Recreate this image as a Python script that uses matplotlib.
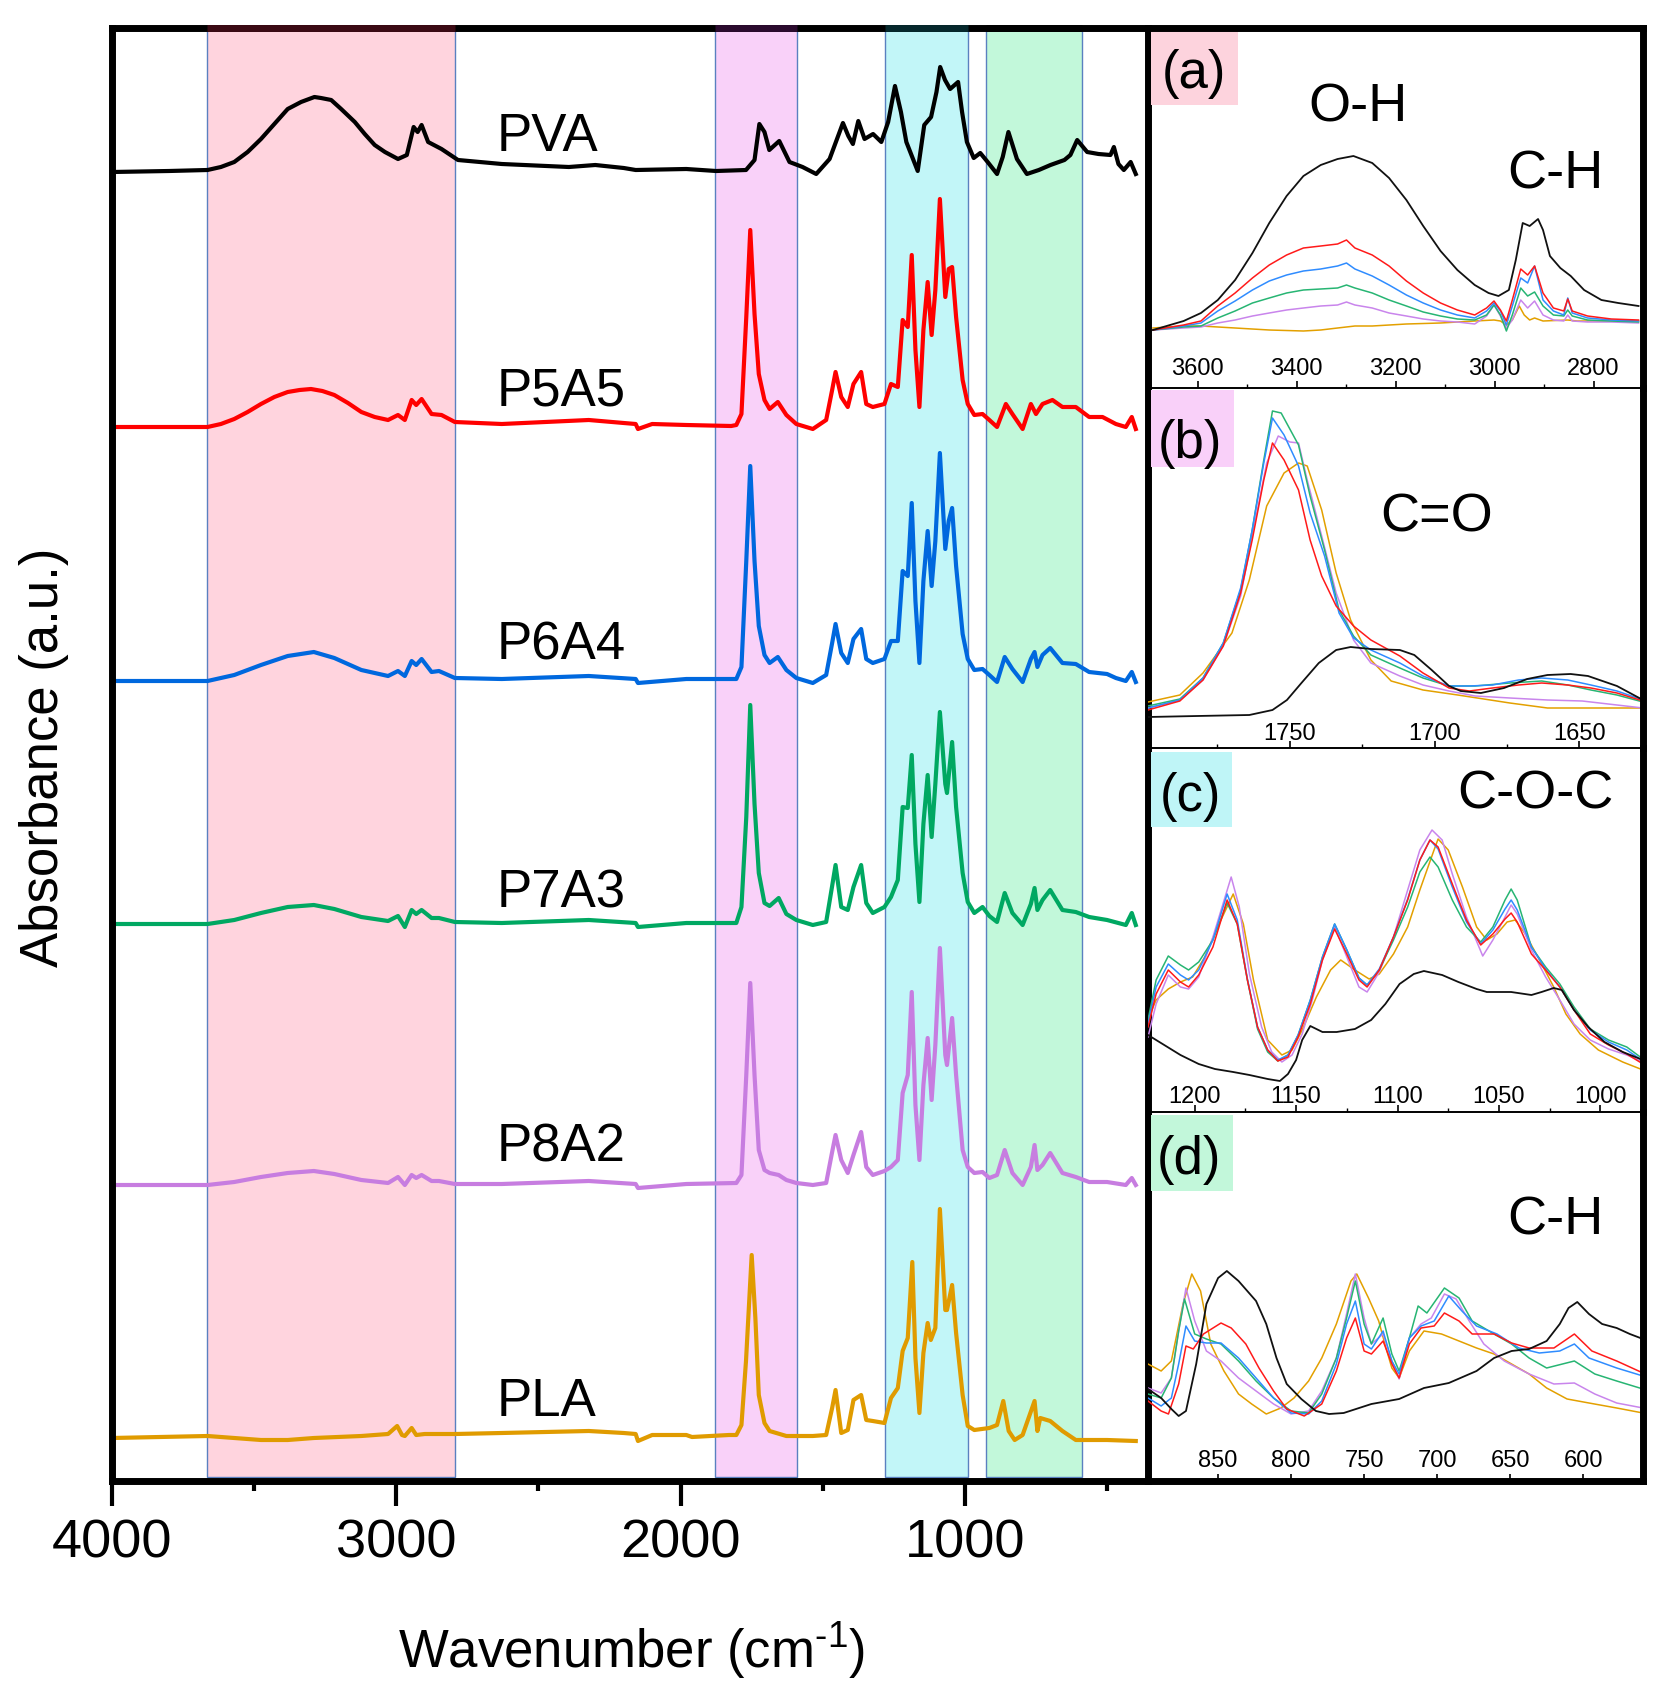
import numpy as np
import matplotlib
matplotlib.use("Agg")
import matplotlib.pyplot as plt
from matplotlib.patches import Rectangle

plt.rcParams['font.family'] = ['Liberation Sans', 'DejaVu Sans']
plt.rcParams['mathtext.fontset'] = 'custom'
plt.rcParams['mathtext.rm'] = 'Liberation Sans'
plt.rcParams['mathtext.it'] = 'Liberation Sans'
plt.rcParams['mathtext.default'] = 'regular'

# ---------------- main panel data (wavenumber, absorbance above own baseline) -------------
names = ['PVA', 'P5A5', 'P6A4', 'P7A3', 'P8A2', 'PLA']
offsets = [1309, 1054, 800, 557, 296, 43]
label_y = [1330, 1076, 822, 574, 320, 65]
main_colors = ['#000000', '#FF0000', '#0068DE', '#00A862', '#C77DE0', '#E09B00']

pva_wn = [4000,3800,3664,3617,3570,3523,3476,3429,3382,3335,3288,3265,3229,3194,3146,3111,3076,3040,2994,2963,
          2939,2925,2911,2888,2841,2783,2629,2393,2300,2200,2158,1980,1875,1770,1740,1723,1705,1688,1653,1617,
          1571,1523,1476,1429,1410,1394,1375,1353,1323,1294,1270,1246,1225,1206,1166,1143,1119,1100,1087,1070,
          1052,1024,1010,993,969,946,920,887,867,847,817,782,740,699,650,629,605,570,530,488,
          476,460,441,417,399]
pva_abs = [0,1,2,5,10,20,33,48,63,70,75,74,72,63,50,38,27,20,13,17,
           45,40,47,30,23,12,8,5,7,4,2,3,1,2,12,48,40,22,31,10,
           5,-2,13,49,36,28,51,33,38,30,50,86,60,30,1,47,55,80,105,92,
           83,90,60,30,14,19,10,-2,15,40,13,-2,2,7,12,17,32,20,18,17,
           25,8,2,10,-2]

p5a5_wn = [4000,3800,3664,3617,3570,3523,3476,3429,3382,3340,3300,3260,3218,3170,3123,3076,3029,2994,2970,2946,
           2930,2911,2876,2841,2794,2629,2323,2200,2158,2150,2100,1980,1822,1804,1786,1769,1755,1740,1725,1705,
           1687,1658,1628,1593,1535,1488,1467,1455,1435,1412,1392,1365,1347,1324,1283,1260,1236,1219,1201,1187,
           1174,1160,1146,1131,1117,1104,1088,1069,1057,1045,1031,1008,990,967,938,914,887,856,833,797,
           768,750,727,692,657,610,563,516,469,434,413,399]
p5a5_abs = [0,0,0,3,8,15,23,30,35,37,38,36,32,24,15,10,7,12,7,27,
            22,28,13,12,5,3,7,4,3,-2,3,2,1,2,13,110,197,113,53,27,
            18,25,12,3,-2,7,37,55,30,20,43,55,23,20,23,43,40,107,100,172,
            77,20,97,145,92,137,228,130,158,160,110,47,23,12,13,7,0,23,13,-2,
            23,13,23,27,20,20,10,10,3,0,10,-2]

p6a4_wn = [4000,3664,3570,3476,3382,3290,3218,3123,3029,2994,2970,2946,2930,2911,2876,2850,2794,2629,2323,2158,
           2150,1980,1804,1786,1769,1755,1740,1725,1705,1687,1658,1628,1593,1535,1488,1467,1455,1435,1412,1392,
           1365,1347,1324,1283,1260,1236,1219,1201,1187,1174,1160,1146,1131,1117,1104,1088,1069,1057,1045,1031,
           1008,990,967,938,914,887,860,833,797,768,755,745,727,700,657,610,563,500,469,434,
           413,399]
p6a4_abs = [0,0,6,16,25,29,23,11,5,10,5,20,16,22,9,10,3,2,5,2,
            -2,2,2,14,120,215,120,55,26,18,24,11,3,-2,6,38,57,28,18,42,
            52,22,18,22,40,40,110,105,178,80,18,100,150,95,140,228,132,160,173,115,
            47,22,11,12,6,-1,24,12,-1,22,29,14,26,33,18,17,9,7,3,0,
            9,-1]

p7a3_wn = [4000,3664,3570,3476,3382,3290,3218,3123,3029,2994,2970,2946,2930,2911,2876,2850,2794,2629,2323,2158,
           2150,1980,1804,1786,1769,1755,1740,1725,1705,1687,1655,1628,1593,1535,1488,1467,1455,1435,1412,1392,
           1365,1347,1324,1283,1260,1236,1219,1201,1187,1174,1160,1146,1131,1117,1104,1088,1069,1063,1045,1031,
           1008,990,967,938,914,887,860,833,797,768,755,745,727,700,657,610,563,500,434,413,
           399]
p7a3_abs = [0,0,4,11,17,19,15,7,3,8,-3,14,10,14,6,6,2,1,4,1,
            -3,1,1,17,107,219,120,51,21,18,26,10,4,-1,2,38,59,17,14,37,
            59,21,11,17,27,44,117,116,169,80,22,100,149,87,140,212,140,131,182,117,
            51,22,11,17,8,2,31,11,-1,20,36,14,24,34,14,12,7,4,-1,11,
            -1]

p8a2_wn = [4000,3664,3570,3476,3382,3290,3218,3123,3029,2994,2970,2946,2930,2911,2876,2850,2794,2629,2323,2158,
           2150,1980,1804,1786,1769,1755,1740,1725,1705,1687,1655,1628,1593,1535,1488,1467,1455,1435,1412,1392,
           1365,1347,1324,1283,1260,1236,1219,1201,1187,1174,1160,1146,1131,1117,1104,1088,1069,1063,1045,1031,
           1008,990,967,938,914,887,860,833,797,768,755,745,727,700,657,610,563,500,434,413,
           399]
p8a2_abs = [0,0,3,8,12,14,11,5,2,8,0,10,7,10,4,4,1,1,4,1,
            -3,1,2,10,110,202,110,35,15,12,10,5,2,0,2,33,50,25,12,30,
            53,18,10,14,18,25,92,110,193,80,25,100,147,85,140,237,130,120,167,110,
            35,18,12,13,7,10,35,12,0,18,40,15,20,32,12,8,3,3,0,7,
            0]

pla_wn = [4000,3664,3476,3382,3290,3123,3029,2997,2980,2970,2946,2930,2900,2794,2629,2323,2200,2158,2150,2100,
          1980,1960,1830,1804,1786,1770,1750,1737,1725,1705,1687,1628,1593,1535,1488,1467,1455,1435,1412,1392,
          1365,1347,1324,1283,1260,1236,1219,1201,1185,1174,1160,1146,1131,1120,1104,1088,1069,1063,1045,1031,
          1008,990,967,914,887,865,846,825,797,755,745,735,700,657,610,500,399]
pla_abs = [0,2,-2,-2,0,2,4,12,3,2,10,3,4,4,5,7,5,4,-3,3,
           3,1,3,3,13,77,183,120,43,15,7,2,2,2,3,30,48,5,8,38,
           43,18,17,15,40,50,87,100,176,80,25,85,115,98,110,229,128,128,153,105,
           43,12,8,10,13,37,7,-2,3,37,7,20,17,7,-2,-2,-3]

main_wn = [pva_wn, p5a5_wn, p6a4_wn, p7a3_wn, p8a2_wn, pla_wn]
main_abs = [pva_abs, p5a5_abs, p6a4_abs, p7a3_abs, p8a2_abs, pla_abs]

# shaded regions (cm-1)
band_lo = [3665, 1880, 1280, 925]
band_hi = [2795, 1592, 988, 588]
band_colors = ['#FFD4DE', '#F9D1F9', '#C2F6F8', '#C2F8DA']
band_top_tint = ['#3B0A14', '#2B0B2E', '#06282C', '#000000']

main_ticks = [4000, 3000, 2000, 1000]
main_minor = [3500, 2500, 1500, 500]

# ---------------- inset (a): O-H / C-H -------------
a_pva_wn = [3690,3628,3593,3559,3524,3489,3455,3420,3386,3351,3317,3285,3247,3213,3178,3144,3109,3075,3040,3012,
            2992,2971,2957,2943,2929,2912,2902,2888,2867,2846,2819,2784,2750,2709]
a_pva = [58,67,75,88,108,135,165,192,212,223,229,232,225,210,188,162,137,118,103,95,
         92,98,128,165,162,169,158,132,120,112,98,88,85,82]
a_grid = [3690,3628,3593,3559,3524,3489,3455,3420,3386,3351,3317,3299,3282,3247,3213,3178,3144,3109,3075,3040,
          3016,3001,2988,2976,2964,2947,2933,2919,2902,2881,2860,2852,2843,2812,2764,2709]
a_p5a5 = [58,63,67,82,95,110,123,133,140,142,144,148,140,133,122,107,95,85,78,73,
          80,87,78,67,88,119,113,122,95,80,77,89,77,72,69,68]
a_p6a4 = [58,62,65,77,87,98,107,113,117,119,122,125,119,112,103,93,85,78,73,70,
          77,85,77,63,82,110,105,122,88,77,73,90,75,70,68,67]
a_p7a3 = [58,61,62,70,77,85,90,95,98,99,100,103,100,95,88,82,76,72,69,68,
          73,83,73,57,73,100,92,96,82,73,72,78,72,68,67,66]
a_p8a2 = [58,60,61,65,68,72,75,78,80,82,83,86,83,80,75,72,69,67,66,64,
          72,83,72,60,68,88,80,87,73,68,67,73,67,66,66,65]
a_pla_wn = [3690,3628,3593,3524,3455,3386,3351,3317,3282,3247,3178,3109,3040,3001,2988,2976,2964,2950,2940,2929,
            2919,2902,2852,2833,2709]
a_pla = [60,62,62,60,58,57,58,60,62,62,64,65,67,68,67,63,68,82,73,68,70,67,68,67,67]
a_ticks = [3600, 3400, 3200, 3000, 2800]
a_minor = [3700, 3500, 3300, 3100, 2900, 2700]

# ---------------- inset (b): C=O -------------
b_pva_wn = [1799,1782,1764,1756,1751,1746,1740,1734,1729,1722,1712,1707,1701,1695,1691,1684,1676,1668,1661,1653,
            1647,1637,1628]
b_pva = [31,32,33,38,48,65,85,98,101,99,98,93,78,62,57,55,60,69,73,74,72,62,48]
b_p5a5_wn = [1799,1788,1780,1773,1767,1763,1759,1756,1752,1747,1743,1739,1734,1728,1722,1712,1704,1695,1688,1680,
             1671,1663,1654,1646,1637,1628]
b_p5a5 = [38,47,68,102,155,208,268,305,288,258,208,172,142,122,108,92,75,60,57,60,63,65,63,60,55,47]
b_p6a4_wn = [1799,1788,1780,1773,1767,1763,1759,1756,1752,1747,1743,1738,1733,1728,1722,1712,1704,1695,1688,1680,
             1671,1663,1654,1646,1637,1628]
b_p6a4 = [40,48,70,105,160,218,285,330,313,282,235,192,135,110,98,85,72,62,62,63,68,70,68,63,57,48]
b_p7a3_wn = [1799,1788,1780,1773,1767,1763,1759,1756,1753,1747,1743,1738,1733,1728,1722,1712,1704,1695,1686,1674,
             1663,1654,1646,1637,1628]
b_p7a3 = [42,49,70,105,158,218,288,337,335,303,252,198,138,112,93,80,70,62,62,65,67,63,58,53,46]
b_p8a2_wn = [1799,1788,1780,1773,1767,1763,1758,1754,1750,1747,1744,1739,1734,1728,1722,1712,1704,1695,1686,1674,
             1661,1649,1637,1628]
b_p8a2 = [40,48,68,102,152,212,285,312,306,305,268,212,155,108,85,72,63,57,52,50,48,47,43,40]
b_pla_wn = [1799,1788,1780,1770,1764,1758,1752,1747,1744,1739,1734,1729,1722,1715,1704,1692,1674,1661,1649,1628]
b_pla = [46,53,75,115,168,242,275,285,282,238,175,128,88,67,58,53,45,40,40,40]
b_ticks = [1750, 1700, 1650]
b_minor = [1775, 1725, 1675]

# ---------------- inset (c): C-O-C -------------
c_pva_wn = [1223,1215,1207,1198,1190,1181,1173,1164,1158,1154,1150,1147,1143,1137,1130,1121,1113,1106,1099,1092,
            1087,1078,1070,1061,1056,1044,1034,1029,1023,1019,1013,1006,998,989,979]
c_pva = [77,67,57,48,43,40,37,33,31,38,52,72,86,80,80,83,92,108,128,138,
         141,137,130,123,120,120,117,120,124,122,102,85,70,60,52]
c_grid = [1223,1219,1213,1207,1203,1198,1191,1184,1179,1174,1169,1164,1159,1154,1149,1143,1137,1131,1125,1119,
          1115,1109,1102,1095,1089,1084,1080,1073,1066,1059,1053,1047,1044,1041,1034,1027,1020,1013,1005,996,
          987,979]
c_p5a5 = [85,118,142,130,125,137,165,212,188,132,85,62,51,55,75,108,152,183,158,132,
          125,142,175,212,252,272,265,228,192,167,178,193,199,190,158,142,125,102,78,67,58,48]
c_p6a4 = [88,125,148,137,132,142,172,218,192,133,85,62,52,57,77,112,155,188,162,134,
          127,143,175,213,252,272,263,225,190,168,182,203,212,202,165,143,125,102,82,70,62,51]
c_p7a3 = [92,132,156,147,142,150,172,209,188,132,83,60,51,57,77,112,155,188,162,134,
          127,142,172,205,240,255,245,212,185,170,185,212,223,212,165,145,128,105,83,72,65,53]
c_p8a2_wn = [1223,1219,1213,1207,1203,1198,1191,1182,1178,1173,1167,1162,1157,1152,1147,1142,1137,1131,1125,1119,
             1115,1109,1102,1095,1089,1083,1078,1073,1066,1058,1053,1047,1044,1041,1034,1027,1020,1013,1005,996,
             987,979]
c_p8a2 = [75,108,137,125,123,135,175,235,205,138,85,60,50,57,78,112,152,185,155,125,
          120,140,175,222,262,282,272,238,195,156,172,195,207,198,162,135,112,88,72,63,57,50]
c_pla_wn = [1223,1219,1213,1207,1201,1195,1188,1181,1176,1171,1164,1157,1152,1147,1140,1133,1128,1121,1114,1109,
            1102,1095,1089,1082,1080,1075,1068,1061,1056,1051,1046,1042,1037,1030,1023,1017,1010,1001,989,979]
c_pla = [93,112,123,130,135,155,188,218,188,132,72,57,62,82,115,142,152,142,133,138,
         158,185,222,262,273,262,225,185,172,178,190,192,178,152,125,98,78,62,50,42]
c_ticks = [1200, 1150, 1100, 1050, 1000]
c_minor = [1175, 1125, 1075, 1025]

# ---------------- inset (d): C-H -------------
d_pva_wn = [898,889,882,877,872,865,858,850,844,836,824,817,810,803,793,783,774,764,745,726,
            709,692,673,661,649,637,625,616,610,604,596,587,577,568,559]
d_pva = [92,83,72,65,70,117,177,203,210,200,180,157,123,97,82,70,67,68,77,82,
         93,98,110,123,130,132,140,157,173,179,167,157,153,147,142]
d_p5a5_wn = [898,889,884,877,872,867,860,848,841,831,822,812,803,791,779,769,762,756,750,745,
             737,731,726,719,711,702,695,685,676,661,649,637,620,606,594,577,559]
d_p5a5 = [80,70,67,97,135,132,147,158,153,137,113,90,72,65,77,110,143,163,130,127,
          140,117,103,137,153,155,168,160,147,147,138,133,133,147,130,120,108]
d_p6a4_wn = [898,889,882,877,872,866,858,848,836,824,812,800,788,779,769,762,756,750,745,737,
             731,726,719,711,702,692,683,673,659,644,630,616,606,596,577,559]
d_p6a4 = [83,75,83,117,155,140,138,138,123,103,83,68,67,80,117,157,180,137,132,150,
          120,107,143,155,160,185,170,155,147,133,128,130,137,123,113,105]
d_p7a3_wn = [898,889,882,877,873,866,858,848,836,824,812,800,788,779,769,762,756,750,745,737,
             731,726,719,713,707,695,685,676,661,649,637,625,606,592,577,559]
d_p7a3 = [87,83,103,150,182,147,142,137,120,100,83,70,68,87,123,163,200,157,137,163,
          127,110,143,175,168,193,183,160,147,137,123,113,120,107,100,92]
d_p8a2_wn = [898,889,882,877,872,866,858,848,836,824,812,800,788,779,769,762,756,750,745,737,
             731,726,719,711,704,695,687,678,668,654,637,620,606,592,577,559]
d_p8a2 = [93,88,103,150,193,160,130,120,103,90,77,67,70,90,123,167,207,163,137,147,
          120,102,143,157,163,187,182,160,137,120,107,97,98,87,78,73]
d_pla_wn = [898,889,882,874,868,862,855,846,836,827,817,807,798,788,779,769,759,755,747,740,
            735,731,726,719,709,697,685,673,661,649,637,625,611,596,577,559]
d_pla = [117,110,120,177,207,190,137,110,87,77,67,73,83,100,123,157,200,207,183,160,
         133,113,103,130,150,147,140,133,127,117,107,93,82,78,73,68]
d_ticks = [850, 800, 750, 700, 650, 600]

inset_colors = ['#111111', '#FF1A1A', '#2F8CFF', '#27B573', '#C985EC', '#E3A000']

# ---------------- figure ----------------
W, H = 1671, 1695
fig = plt.figure(figsize=(W / 100, H / 100), dpi=100)


def frac(l, t, r, b):
    return [l / W, 1 - b / H, (r - l) / W, (b - t) / H]


ax = fig.add_axes(frac(112, 28, 1148, 1481))
ax.set_xlim(4000, 356)
ax.set_ylim(0, 1453)

for lo, hi, fc, tint in zip(band_lo, band_hi, band_colors, band_top_tint):
    ax.axvspan(lo, hi, ymin=0.003, ymax=1, facecolor=fc, edgecolor='#5A80C0', lw=1.0, zorder=0)
    ax.hlines(1453, lo, hi, colors=tint, lw=5, zorder=3, clip_on=False)

for wn, ab, off, col, nm, ly in zip(main_wn, main_abs, offsets, main_colors, names, label_y):
    ax.plot(wn, np.array(ab) + off, color=col, lw=3.0, solid_joinstyle='round', zorder=2)
    ax.text(2648, ly, nm, fontsize=38, ha='left', va='baseline', zorder=4)

for s in ax.spines.values():
    s.set_linewidth(5)
ax.set_yticks([])
ax.set_xticks(main_ticks)
ax.set_xticks(main_minor, minor=True)
ax.set_xticklabels([str(t) for t in main_ticks])
ax.tick_params(axis='x', which='major', direction='out', length=18, width=3, labelsize=39, pad=9)
ax.tick_params(axis='x', which='minor', direction='out', length=7, width=3)

fig.text(44 / W, 1 - 757 / H, 'Absorbance (a.u.)', rotation=90, ha='center', va='center', fontsize=38)
fig.text(632 / W, 1 - 1668 / H, r'Wavenumber (cm$^{\text{-}1}$)', ha='center', va='baseline', fontsize=38)

# ---------------- insets ----------------
inset_specs = [
    dict(top=28, bot=388, xlim=(3688, 2708), ylim=(0, 360),
         series=[(a_pva_wn, a_pva), (a_grid, a_p5a5), (a_grid, a_p6a4), (a_grid, a_p7a3), (a_grid, a_p8a2), (a_pla_wn, a_pla)],
         ticks=a_ticks, minor=a_minor, tly=0.036, tag='(a)', tagc='#FDD3DD', box=(0.006, 0.786, 0.176, 0.211), tagxy=(0.093, 0.833),
         groups=[('O-H', 0.424, 0.739), ('C-H', 0.822, 0.553)]),
    dict(top=388, bot=748, xlim=(1799, 1628), ylim=(0, 360),
         series=[(b_pva_wn, b_pva), (b_p5a5_wn, b_p5a5), (b_p6a4_wn, b_p6a4), (b_p7a3_wn, b_p7a3), (b_p8a2_wn, b_p8a2), (b_pla_wn, b_pla)],
         ticks=b_ticks, minor=b_minor, tly=0.022, tag='(b)', tagc='#F9D0F9', box=(0.006, 0.781, 0.168, 0.213), tagxy=(0.085, 0.806),
         groups=[('C=O', 0.584, 0.600)]),
    dict(top=748, bot=1112, xlim=(1223, 979), ylim=(0, 364),
         series=[(c_pva_wn, c_pva), (c_grid, c_p5a5), (c_grid, c_p6a4), (c_grid, c_p7a3), (c_p8a2_wn, c_p8a2), (c_pla_wn, c_pla)],
         ticks=c_ticks, minor=c_minor, tly=0.025, tag='(c)', tagc='#BFF5F7', box=(0.006, 0.783, 0.164, 0.206), tagxy=(0.085, 0.827),
         groups=[('C-O-C', 0.782, 0.835)]),
    dict(top=1112, bot=1481, xlim=(898, 559), ylim=(0, 369),
         series=[(d_pva_wn, d_pva), (d_p5a5_wn, d_p5a5), (d_p6a4_wn, d_p6a4), (d_p7a3_wn, d_p7a3), (d_p8a2_wn, d_p8a2), (d_pla_wn, d_pla)],
         ticks=d_ticks, minor=[], tly=0.038, tag='(d)', tagc='#C2F7DA', box=(0.006, 0.786, 0.166, 0.206), tagxy=(0.083, 0.832),
         groups=[('C-H', 0.822, 0.667)]),
]

for i, sp in enumerate(inset_specs):
    iax = fig.add_axes(frac(1148, sp['top'], 1643, sp['bot']))
    iax.set_facecolor('none')
    iax.set_xlim(*sp['xlim'])
    iax.set_ylim(*sp['ylim'])
    order = [5, 4, 3, 2, 1, 0]
    for k in order:
        wn, yy = sp['series'][k]
        iax.plot(wn, yy, color=inset_colors[k], lw=1.1 if k else 1.3, zorder=2)
    iax.set_yticks([])
    iax.set_xticks(sp['ticks'])
    if sp['minor']:
        iax.set_xticks(sp['minor'], minor=True)
    iax.tick_params(axis='x', which='major', direction='in', length=5, width=1.2, labelbottom=False)
    iax.tick_params(axis='x', which='minor', direction='in', length=3, width=1.0)
    for t in sp['ticks']:
        iax.text(t, sp['tly'], str(t), transform=iax.get_xaxis_transform(), ha='center', va='baseline', fontsize=17)
    iax.spines['left'].set_visible(False)
    iax.spines['right'].set_linewidth(5)
    iax.spines['top'].set_linewidth(5 if i == 0 else 1.2)
    iax.spines['bottom'].set_linewidth(5 if i == 3 else 1.2)
    bx, by, bw, bh = sp['box']
    iax.add_patch(Rectangle((bx, by), bw, bh, transform=iax.transAxes, facecolor=sp['tagc'], edgecolor='none', zorder=1))
    iax.text(sp['tagxy'][0], sp['tagxy'][1], sp['tag'], transform=iax.transAxes, ha='center', va='baseline', fontsize=38, zorder=3)
    for txt, gx, gy in sp['groups']:
        iax.text(gx, gy, txt, transform=iax.transAxes, ha='center', va='baseline', fontsize=39, zorder=3)

fig.savefig('out.png', dpi=100)
